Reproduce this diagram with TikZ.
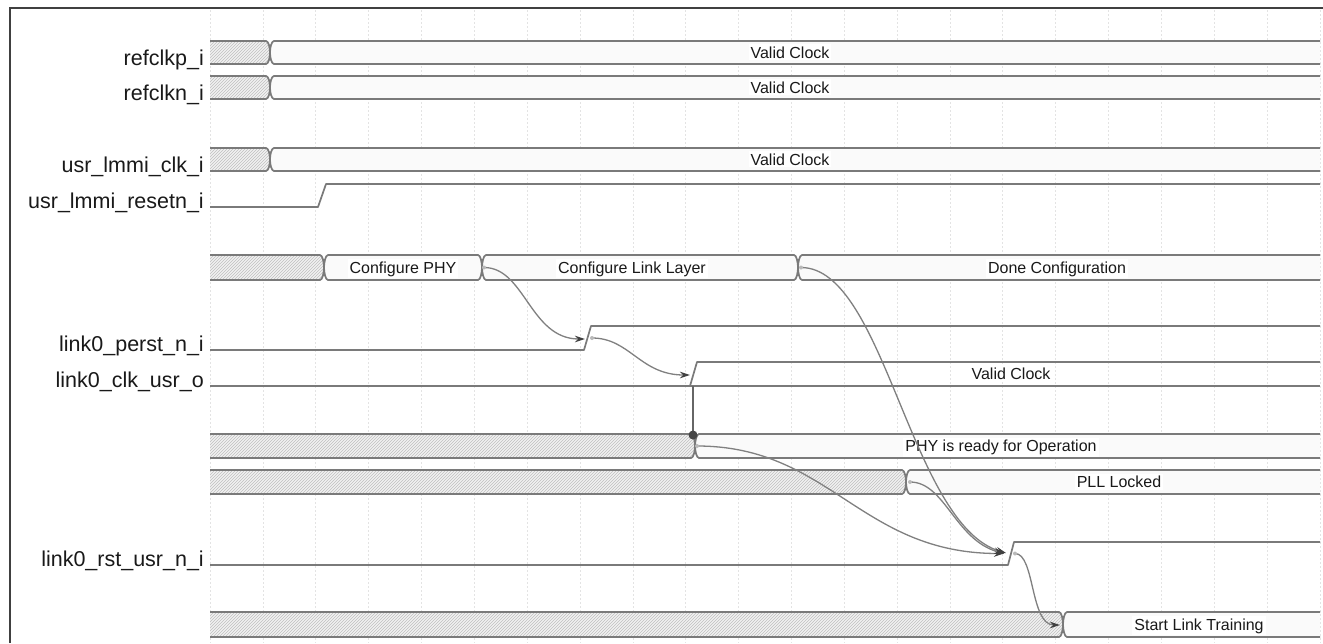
\documentclass[tikz,border=0pt]{standalone}
\usepackage{fontspec}
\setmainfont{Liberation Sans}
\usetikzlibrary{arrows.meta,patterns}
\tikzset{
  wave/.style={draw=black!52, line width=1.7pt, line join=round},
  hatchfill/.style={fill=gray!10, postaction={pattern=north east lines, pattern color=gray!50}},
  validfill/.style={fill=gray!4},
  gridline/.style={draw=gray!22, line width=0.6pt, dash pattern=on 2pt off 2pt},
  lbl/.style={font=\fontsize{21.5}{24}\selectfont, anchor=base east, inner sep=0pt, text=black!90},
  bustext/.style={font=\fontsize{16}{18}\selectfont, anchor=base, fill=white, inner sep=2pt, text=black!90},
  conn/.style={draw=black!50, line width=1.3pt, -{Stealth[length=10pt,width=6.5pt,color=black!75]}},
  startmark/.style={fill=gray!55},
  frame/.style={draw=black!75, line width=1.4pt},
}
\newcommand\segfirst[3]{%
  \pgfmathsetmacro\mymid{(#2+#3)/2}%
  \path[hatchfill] (210,#2) -- ({#1-4},#2) .. controls ({#1-1.5},#2) and (#1,{\mymid-5}) .. (#1,\mymid) .. controls (#1,{\mymid+5}) and ({#1-1.5},#3) .. ({#1-4},#3) -- (210,#3) -- cycle;%
  \draw[wave] (210,#2) -- ({#1-4},#2) .. controls ({#1-1.5},#2) and (#1,{\mymid-5}) .. (#1,\mymid) .. controls (#1,{\mymid+5}) and ({#1-1.5},#3) .. ({#1-4},#3) -- (210,#3);%
}
\newcommand\segmid[4]{%
  \pgfmathsetmacro\mymid{(#3+#4)/2}%
  \draw[wave,validfill] ({#1+4},#3) -- ({#2-4},#3) .. controls ({#2-1.5},#3) and (#2,{\mymid-5}) .. (#2,\mymid) .. controls (#2,{\mymid+5}) and ({#2-1.5},#4) .. ({#2-4},#4) -- ({#1+4},#4) .. controls ({#1+1.5},#4) and (#1,{\mymid+5}) .. (#1,\mymid) .. controls (#1,{\mymid-5}) and ({#1+1.5},#3) .. cycle;%
}
\newcommand\seglast[3]{%
  \pgfmathsetmacro\mymid{(#2+#3)/2}%
  \path[validfill] (1320,#2) -- ({#1+4},#2) .. controls ({#1+1.5},#2) and (#1,{\mymid-5}) .. (#1,\mymid) .. controls (#1,{\mymid+5}) and ({#1+1.5},#3) .. ({#1+4},#3) -- (1320,#3) -- cycle;%
  \draw[wave] (1320,#2) -- ({#1+4},#2) .. controls ({#1+1.5},#2) and (#1,{\mymid-5}) .. (#1,\mymid) .. controls (#1,{\mymid+5}) and ({#1+1.5},#3) .. ({#1+4},#3) -- (1320,#3);%
}
\begin{document}
\begin{tikzpicture}[x=1pt,y=-1pt]
\useasboundingbox (0,0) rectangle (1323,643);
\fill[white] (0,0) rectangle (1323,643);
% grid
\foreach \k in {0,...,21} \draw[gridline] ({210+52.85*\k},10) -- ({210+52.85*\k},643);
% frame
\draw[frame] (10,643) -- (10,8) -- (1323,8);

% labels
\node[lbl] (lrefp) at (204,65) {refclkp\_i};
\node[lbl] (lrefn) at (204,100) {refclkn\_i};
\node[lbl] (lclk) at (204,172) {usr\_lmmi\_clk\_i};
\node[lbl] (lrst) at (204,208) {usr\_lmmi\_resetn\_i};
\node[lbl] (lperst) at (204,351) {link0\_perst\_n\_i};
\node[lbl] (lclkusr) at (204,387) {link0\_clk\_usr\_o};
\node[lbl] (lrstusr) at (204,566) {link0\_rst\_usr\_n\_i};

% refclkp_i
\segfirst{270}{41}{64}
\seglast{270}{41}{64}
% refclkn_i
\segfirst{270}{76}{99}
\seglast{270}{76}{99}
% usr_lmmi_clk_i
\segfirst{270}{148}{171}
\seglast{270}{148}{171}
% usr_lmmi_resetn_i
\draw[wave] (210,207) -- (318,207) -- (326,184) -- (1320,184);
% configuration bus
\segfirst{324}{255}{280}
\segmid{324}{482}{255}{280}
\segmid{482}{798}{255}{280}
\seglast{798}{255}{280}
% link0_perst_n_i
\draw[wave] (210,350) -- (584,350) -- (591,326) -- (1320,326);
% link0_clk_usr_o
\draw[wave] (210,386) -- (1320,386);
\draw[wave] (690,386) -- (697,362) -- (1320,362);
% PHY ready
\segfirst{695}{434}{458}
\seglast{695}{434}{458}
% PLL locked
\segfirst{906}{470}{494}
\seglast{906}{470}{494}
% link0_rst_usr_n_i
\draw[wave] (210,565) -- (1008,565) -- (1014,542) -- (1320,542);
% start link training
\segfirst{1063}{612}{637}
\seglast{1063}{612}{637}

% bus texts
\node[bustext] (t1) at (790,58) {Valid Clock};
\node[bustext] (t2) at (790,93) {Valid Clock};
\node[bustext] (t3) at (790,165) {Valid Clock};
\node[bustext] (t4) at (403,273) {Configure PHY};
\node[bustext] (t5) at (632,273) {Configure Link Layer};
\node[bustext] (t6) at (1057,273) {Done Configuration};
\node[bustext] (t7) at (1011,379.5) {Valid Clock};
\node[bustext] (t8) at (1001,451.5) {PHY is ready for Operation};
\node[bustext] (t9) at (1119,487.5) {PLL Locked};
\node[bustext] (t10) at (1199,630) {Start Link Training};

% coordinates of events
\coordinate (a1s) at (484,267.5);
\coordinate (a1e) at (585,339);
\coordinate (a2s) at (592,338);
\coordinate (a2e) at (690,375);
\coordinate (a3s) at (801,267.5);
\coordinate (a3e) at (1006,553);
\coordinate (a4s) at (697,446);
\coordinate (a4e) at (1004,553.5);
\coordinate (a5s) at (910,482);
\coordinate (a5e) at (1004,553.5);
\coordinate (a6s) at (1015,553.5);
\coordinate (a6e) at (1060,625);
\coordinate (clkedge) at (693,386);
\coordinate (phydot) at (693,435);

% vertical dependency with dot
\draw[black!60, line width=1.5pt] (clkedge) -- (phydot);
\fill[black!72] (phydot) circle (4.5);

% connectors
\draw[conn] (a1s) .. controls (525,267.5) and (530,339) .. (a1e);
\draw[conn] (a2s) .. controls (630,338) and (640,375) .. (a2e);
\draw[conn] (a3s) .. controls (885,267.5) and (910,525) .. (a3e);
\draw[conn] (a4s) .. controls (830,446) and (860,553.5) .. (a4e);
\draw[conn] (a5s) .. controls (945,482) and (955,540) .. (a5e);
\draw[conn] (a6s) .. controls (1035,553.5) and (1030,625) .. (a6e);
\foreach \p in {a1s,a2s,a3s,a4s,a5s,a6s} \fill[startmark] (\p) circle (2);
\end{tikzpicture}
\end{document}
